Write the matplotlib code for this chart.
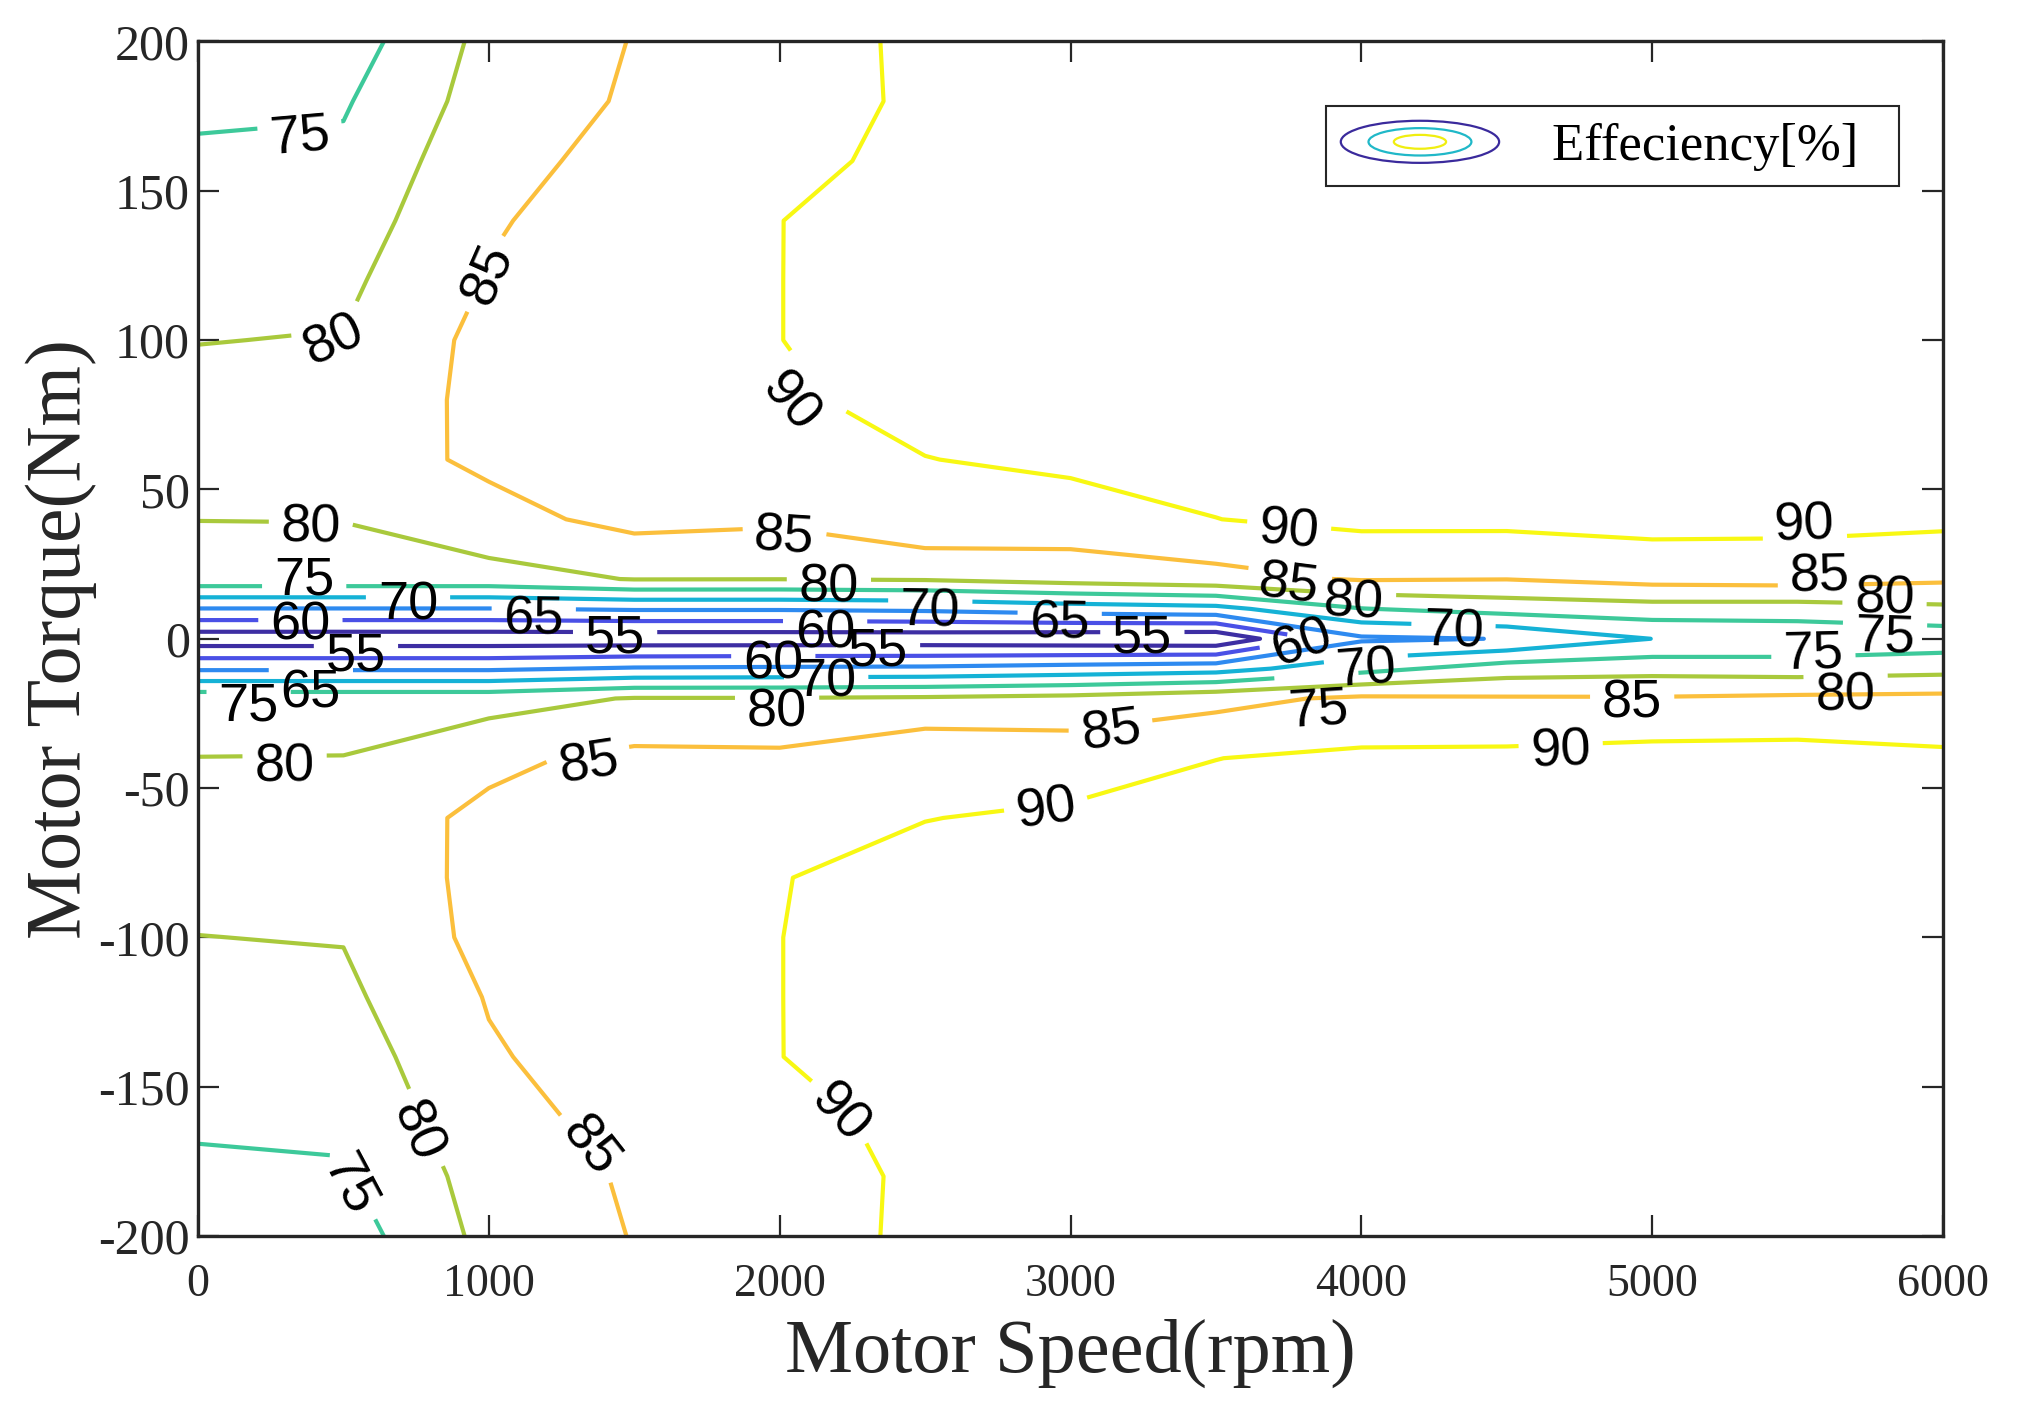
import numpy as np
import matplotlib
matplotlib.use("Agg")
import matplotlib.pyplot as plt
from matplotlib.patches import Ellipse, Patch
from matplotlib.legend_handler import HandlerBase

plt.rcParams['font.family'] = 'Liberation Serif'
plt.rcParams['axes.unicode_minus'] = False

# motor speed grid (rpm) and torque grid (Nm)
speed = [0, 500, 1000, 1500, 2000, 2500, 3000, 3500, 4000, 4500, 5000, 5500, 6000]
torque = [-200, -180, -160, -140, -120, -100, -80, -60, -40, -20, -10, 0,
          10, 20, 40, 60, 80, 100, 120, 140, 160, 180, 200]

# efficiency [%], one row per torque value
efficiency = [
    [73.5, 72.5, 81.5, 85.2, 88.2, 90.8, 91.5, 92.0, 93.0, 93.3, 93.5, 93.3, 93.0],    # -200
    [74.4, 74.5, 82.2, 85.6, 88.5, 90.6, 91.7, 92.2, 93.2, 93.5, 93.8, 93.5, 93.2],    # -180
    [75.5, 76.0, 83.5, 86.5, 89.0, 91.0, 92.0, 92.5, 93.5, 93.8, 94.0, 93.8, 93.5],    # -160
    [77.0, 77.5, 84.5, 87.5, 89.95, 91.8, 92.3, 92.8, 93.8, 94.0, 94.3, 94.0, 93.8],   # -140
    [78.5, 79.0, 85.3, 88.0, 89.95, 92.0, 92.5, 93.0, 94.0, 94.3, 94.5, 94.2, 94.0],   # -120
    [79.95, 80.2, 86.5, 88.3, 89.95, 92.0, 92.5, 93.0, 94.0, 94.3, 94.5, 94.2, 94.0],  # -100
    [81.2, 81.8, 86.3, 88.0, 89.85, 91.5, 92.0, 92.5, 93.5, 93.8, 94.0, 93.8, 93.5],   # -80
    [82.0, 82.5, 86.0, 87.0, 88.0, 89.9, 90.7, 91.5, 92.5, 92.8, 93.0, 92.8, 92.5],    # -60
    [80.05, 80.1, 84.0, 86.2, 86.0, 89.2, 88.0, 89.95, 90.9, 91.1, 91.8, 91.8, 90.85], # -40
    [78.0, 78.0, 78.0, 80.3, 80.3, 80.7, 81.5, 83.5, 85.9, 85.5, 85.4, 86.0, 86.3],    # -20
    [64.3, 64.3, 64.3, 65.5, 65.8, 66.0, 67.0, 68.0, 73.3, 77.5, 78.2, 77.6, 78.4],    # -10
    [52.0, 52.0, 52.0, 52.0, 52.0, 52.0, 51.5, 51.0, 64.2, 65.15, 70.05, 71.0, 72.0],  # 0
    [64.8, 64.8, 64.8, 65.5, 65.5, 66.0, 67.5, 68.5, 74.8, 77.0, 77.9, 77.8, 79.0],    # 10
    [78.2, 78.2, 78.2, 80.2, 80.1, 80.5, 82.0, 83.3, 85.4, 85.1, 86.65, 87.0, 85.8],   # 20
    [80.05, 80.1, 83.3, 86.5, 85.8, 89.2, 88.0, 89.95, 91.15, 91.2, 91.7, 91.4, 91.05],# 40
    [82.0, 82.5, 86.0, 87.0, 88.0, 89.9, 90.9, 91.5, 92.5, 92.8, 93.0, 92.8, 92.5],    # 60
    [81.2, 81.8, 86.3, 88.0, 89.3, 91.5, 92.0, 92.5, 93.5, 93.8, 94.0, 93.8, 93.5],    # 80
    [79.9, 80.2, 86.5, 88.3, 89.95, 92.0, 92.5, 93.0, 94.0, 94.3, 94.5, 94.2, 94.0],   # 100
    [78.5, 79.0, 85.3, 88.0, 89.95, 92.0, 92.5, 93.0, 94.0, 94.3, 94.5, 94.2, 94.0],   # 120
    [77.0, 77.5, 84.5, 87.5, 89.95, 91.8, 92.3, 92.8, 93.8, 94.0, 94.3, 94.0, 93.8],   # 140
    [75.5, 76.0, 83.5, 86.5, 89.0, 91.0, 92.0, 92.5, 93.5, 93.8, 94.0, 93.8, 93.5],    # 160
    [74.4, 74.5, 82.2, 85.6, 88.5, 90.6, 91.7, 92.2, 93.2, 93.5, 93.8, 93.5, 93.2],    # 180
    [73.5, 72.5, 81.5, 85.2, 88.2, 90.8, 91.5, 92.0, 93.0, 93.3, 93.5, 93.3, 93.0],    # 200
]

levels = [55, 60, 65, 70, 75, 80, 85, 90]
level_colors = ['#3d2ea3', '#4a50e6', '#2e8af0', '#15b2d6',
                '#3dc99a', '#a9c93c', '#fbbf3c', '#f8f813']

# where the contour labels sit: (speed, torque, level)
label_spots = [
    (352, 168, 75), (468, 100, 80), (998, 122, 85), (2035, 79, 90),
    (388, 37, 80), (2013, 34, 85), (3750, 36, 90), (5523, 38, 90),
    (365, 19.5, 75), (3750, 17.8, 85), (2169, 17, 80), (3973, 12.1, 80),
    (5576, 20.8, 85), (5799, 13.4, 80), (722, 11.3, 70), (1154, 6.5, 65),
    (2517, 9.1, 70), (2962, 4.8, 65), (352, 4.3, 60), (2156, 1.7, 60),
    (543, -6.1, 55), (1434, 0, 55), (2338, -4.3, 55), (3247, 0, 55),
    (1978, -8.7, 60), (3795, -1.7, 60), (4316, 2.2, 70), (2160, -14.7, 70),
    (4017, -10.4, 70), (5554, -5.2, 75), (5799, 0.4, 75), (388, -18.2, 65),
    (174, -22.6, 75), (1991, -24.7, 80), (3853, -23.9, 75), (4931, -21.7, 85),
    (5666, -19.1, 80), (298, -42.9, 80), (1345, -42.1, 85), (3140, -31.2, 85),
    (2917, -57.3, 90), (4686, -37.7, 90), (2205, -159, 90), (1345, -170, 85),
    (753, -165, 80), (521, -183, 75),
]

legend_ring_colors = ['#3a2a9c', '#20b8c8', '#f0ee10']


class RingHandler(HandlerBase):
    # three nested ellipses like the matlab contour legend icon
    def create_artists(self, legend, orig_handle, xdescent, ydescent,
                       width, height, fontsize, trans):
        cx = 0.5 * width - xdescent
        cy = 0.5 * height - ydescent
        rings = []
        for scale, col in zip([1.0, 0.65, 0.33], legend_ring_colors):
            rings.append(Ellipse((cx, cy), width * scale, height * scale,
                                 fill=False, edgecolor=col, linewidth=1.6,
                                 transform=trans))
        return rings


fig = plt.figure(figsize=(20.31, 14.16), dpi=100)
ax = fig.add_axes([0.0975, 0.1271, 0.8592, 0.8436])

cs = ax.contour(speed, torque, np.array(efficiency), levels=levels,
                colors=level_colors, linewidths=3.0)
ax.set_xlim(0, 6000)
ax.set_ylim(-200, 200)

# set up label props once, then place each label on the wanted level
with plt.rc_context({'font.family': 'Liberation Sans'}):
    cs.clabel(levels, manual=[], inline=True, fontsize=39, fmt='%d', colors='k')
for sx, ty, lev in label_spots:
    cs.labelIndiceList = [levels.index(lev)]
    cs.add_label_near(sx, ty, True, 12)
    cs.labelTexts[-1].set_position((sx, ty))

ax.set_xticks(np.arange(0, 6001, 1000))
ax.set_yticks(np.arange(-200, 201, 50))
ax.tick_params(direction='in', length=15, width=1.6, top=True, right=True,
               colors='#262626')
ax.tick_params(axis='x', labelsize=33, pad=20)
ax.tick_params(axis='y', labelsize=36, pad=6)
for sp in ax.spines.values():
    sp.set_linewidth(2.4)
    sp.set_color('#262626')

ax.set_xlabel('Motor Speed(rpm)', fontsize=55, color='#262626', labelpad=9)
ax.set_ylabel('Motor Torque(Nm)', fontsize=56, color='#262626')
ax.yaxis.set_label_coords(-0.058, 0.5)

proxy = Patch()
leg = ax.legend([proxy], ['Effeciency[%]  '], handler_map={Patch: RingHandler()},
                loc='upper right', bbox_to_anchor=(0.975, 0.946),
                borderaxespad=0, fontsize=38, handlelength=3.0,
                handleheight=0.85, handletextpad=1.0, borderpad=0.28,
                fancybox=False, framealpha=1)
leg.get_frame().set_edgecolor('#262626')
leg.get_frame().set_linewidth(1.5)

fig.savefig('out.png', dpi=100)
